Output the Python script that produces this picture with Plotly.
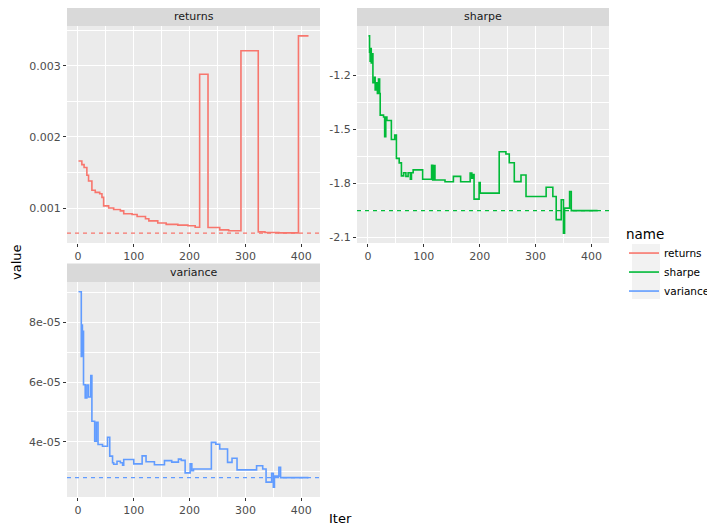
import plotly.graph_objects as go

# ---------------- data ----------------
returns_iter = [1, 7, 11, 16, 19, 25, 31, 39, 43, 46, 55, 64, 76, 82, 97, 106, 121, 127, 143, 158, 179,
                197, 210, 218, 233, 254, 270, 292, 323, 335, 360, 395, 413]
returns_val = [0.00166, 0.00161, 0.00157, 0.00146, 0.00138, 0.00125, 0.00122, 0.00120, 0.00115, 0.00103,
               0.00100, 0.00098, 0.00096, 0.00092, 0.00091, 0.00088, 0.00085, 0.00082, 0.00079, 0.00077,
               0.00076, 0.00075, 0.00073, 0.00288, 0.000726, 0.000693, 0.00068, 0.00321, 0.000665,
               0.000655, 0.00065, 0.00342, 0.00342]

sharpe_iter = [1, 3, 4, 5, 6, 8, 9, 12, 13, 15, 17, 19, 21, 22, 28, 30, 32, 34, 42, 48, 51, 56, 60, 64,
               68, 72, 76, 78, 81, 98, 114, 116, 118, 120, 138, 153, 166, 183, 186, 188, 190, 199, 201,
               235, 247, 253, 262, 274, 283, 319, 331, 337, 346, 350, 352, 361, 364, 411]
sharpe_val = [-0.98, -1.07, -1.12, -1.05, -1.13, -1.08, -1.24, -1.21, -1.28, -1.24, -1.30, -1.22, -1.30,
              -1.42, -1.43, -1.54, -1.43, -1.45, -1.555, -1.53, -1.66, -1.685, -1.757, -1.74, -1.76,
              -1.74, -1.776, -1.74, -1.724, -1.776, -1.698, -1.78, -1.70, -1.78, -1.79, -1.76, -1.79,
              -1.742, -1.77, -1.75, -1.886, -1.794, -1.853, -1.623, -1.636, -1.684, -1.789, -1.752,
              -1.872, -1.82, -1.872, -2.0, -1.89, -2.075, -1.936, -1.844, -1.95, -1.95]

variance_iter = [1, 6, 7, 8, 9, 10, 13, 16, 19, 23, 25, 30, 33, 36, 44, 53, 57, 62, 64, 70, 76, 80, 82,
                 100, 115, 122, 137, 155, 168, 180, 185, 192, 201, 204, 207, 239, 247, 254, 268, 276,
                 285, 320, 331, 337, 347, 350, 352, 360, 363, 413]
variance_val = [9.02e-05, 6.86e-05, 7.91e-05, 6.90e-05, 7.70e-05, 5.91e-05, 5.47e-05, 5.90e-05, 5.50e-05,
                6.22e-05, 4.69e-05, 4.02e-05, 4.65e-05, 3.91e-05, 3.85e-05, 4.15e-05, 3.52e-05, 3.30e-05,
                3.25e-05, 3.35e-05, 3.30e-05, 3.22e-05, 3.41e-05, 3.26e-05, 3.53e-05, 3.33e-05, 3.23e-05,
                3.37e-05, 3.32e-05, 3.42e-05, 3.38e-05, 2.96e-05, 3.26e-05, 3.03e-05, 3.09e-05, 3.98e-05,
                3.92e-05, 3.76e-05, 3.31e-05, 3.45e-05, 3.06e-05, 3.20e-05, 3.09e-05, 2.65e-05, 2.95e-05,
                2.48e-05, 2.85e-05, 3.15e-05, 2.80e-05, 2.80e-05]

names = ["returns", "sharpe", "variance"]
ref_lines = [0.000647, -1.95, 2.80e-05]

x_tickvals = [0, 100, 200, 300, 400]
x_ticktext = ["0", "100", "200", "300", "400"]
returns_tickvals = [0.001, 0.002, 0.003]
returns_ticktext = ["0.001", "0.002", "0.003"]
sharpe_tickvals = [-1.2, -1.5, -1.8, -2.1]
sharpe_ticktext = ["-1.2", "-1.5", "-1.8", "-2.1"]
variance_tickvals = [4e-05, 6e-05, 8e-05]
variance_ticktext = ["4e-05", "6e-05", "8e-05"]

# ---------------- styling ----------------
WIN_W, WIN_H = 715, 528
OFF = 8                       # default page margin around the plot div
W, H = WIN_W - OFF, WIN_H - OFF
colors = ["#F8766D", "#00BA38", "#619CFF"]
FONT = "DejaVu Sans"
TICK_FONT = dict(family=FONT, size=11, color="#4D4D4D")

# panel boxes in window pixels: (left, right, top, bottom)
panels = [(67, 320, 26, 243), (357, 609, 26, 243), (67, 320, 282, 497)]
STRIP_H = 18.5

def px_x(v):
    return (v - OFF) / W

def px_y(v):
    return 1 - (v - OFF) / H

def expand(lo, hi, f=0.05):
    d = hi - lo
    return [lo - f * d, hi + f * d]

series = [(returns_iter, returns_val), (sharpe_iter, sharpe_val), (variance_iter, variance_val)]
ytick = [(returns_tickvals, returns_ticktext, 0.0005),
         (sharpe_tickvals, sharpe_ticktext, 0.15),
         (variance_tickvals, variance_ticktext, 1e-05)]

fig = go.Figure()
layout = dict(
    width=W, height=H,
    margin=dict(l=0, r=0, t=0, b=0, autoexpand=False),
    paper_bgcolor="white",
    plot_bgcolor="#EBEBEB",
    showlegend=True,
    font=dict(family=FONT, color="#000000"),
)
shapes = []
annotations = []

for i, ((xs, ys), name, col, ref, (tv, tt, mdt), (l, r, t, b)) in enumerate(
        zip(series, names, colors, ref_lines, ytick, panels)):
    sfx = "" if i == 0 else str(i + 1)
    fig.add_trace(go.Scatter(
        x=xs, y=ys, mode="lines", name=name,
        line=dict(color=col, width=1.6, shape="hv"),
        xaxis="x" + sfx, yaxis="y" + sfx, showlegend=True,
    ))
    xr = expand(min(xs), max(xs))
    yr = expand(min(ys + [ref]), max(ys + [ref]))
    layout["xaxis" + sfx] = dict(
        domain=[px_x(l), px_x(r)], anchor="y" + sfx, range=xr, automargin=False,
        tickvals=x_tickvals, ticktext=x_ticktext, tickfont=TICK_FONT,
        ticks="outside", ticklen=3, tickwidth=1, tickcolor="#333333",
        showgrid=True, gridcolor="white", gridwidth=1.1, zeroline=False, showline=False,
        minor=dict(dtick=50, tick0=0, showgrid=True, gridcolor="white", gridwidth=0.5, ticks=""),
    )
    layout["yaxis" + sfx] = dict(
        domain=[px_y(b), px_y(t)], anchor="x" + sfx, range=yr, automargin=False,
        tickvals=tv, ticktext=tt, tickfont=TICK_FONT,
        ticks="outside", ticklen=3, tickwidth=1, tickcolor="#333333",
        showgrid=True, gridcolor="white", gridwidth=1.1, zeroline=False, showline=False,
        minor=dict(dtick=mdt, tick0=0, showgrid=True, gridcolor="white", gridwidth=0.5, ticks=""),
    )
    # reference dashed line
    shapes.append(dict(type="line", xref=("x" + sfx) + " domain", x0=0, x1=1,
                       yref="y" + sfx, y0=ref, y1=ref,
                       line=dict(color=col, width=1.1, dash="4px,4px"), layer="above"))
    # strip
    shapes.append(dict(type="rect", xref="paper", yref="paper",
                       x0=px_x(l), x1=px_x(r), y0=px_y(t), y1=px_y(t - STRIP_H),
                       fillcolor="#D9D9D9", line=dict(width=0), layer="below"))
    annotations.append(dict(text=name, xref="paper", yref="paper",
                            x=px_x((l + r) / 2), y=px_y(t - STRIP_H / 2),
                            xanchor="center", yanchor="middle", showarrow=False,
                            font=dict(family=FONT, size=11, color="#1A1A1A")))

# axis titles
annotations.append(dict(text="value", xref="paper", yref="paper", x=px_x(16), y=px_y(262),
                        xanchor="center", yanchor="middle", textangle=-90, showarrow=False,
                        font=dict(family=FONT, size=13, color="#000000")))
annotations.append(dict(text="Iter", xref="paper", yref="paper", x=px_x(340), y=px_y(518),
                        xanchor="center", yanchor="middle", showarrow=False,
                        font=dict(family=FONT, size=13, color="#000000")))

# legend key background
shapes.append(dict(type="rect", xref="paper", yref="paper",
                   x0=px_x(632), x1=px_x(660), y0=px_y(299), y1=px_y(244),
                   fillcolor="#F2F2F2", line=dict(width=0), layer="below"))

layout["shapes"] = shapes
layout["annotations"] = annotations
layout["legend"] = dict(
    x=px_x(624), y=px_y(221), xanchor="left", yanchor="top",
    bgcolor="rgba(0,0,0,0)", borderwidth=0,
    title=dict(text="name", font=dict(family=FONT, size=13.5, color="#000000")),
    font=dict(family=FONT, size=10.5, color="#000000"),
    itemwidth=30, tracegroupgap=0,
)
fig.update_layout(**layout)

fig.write_html("out.html")
